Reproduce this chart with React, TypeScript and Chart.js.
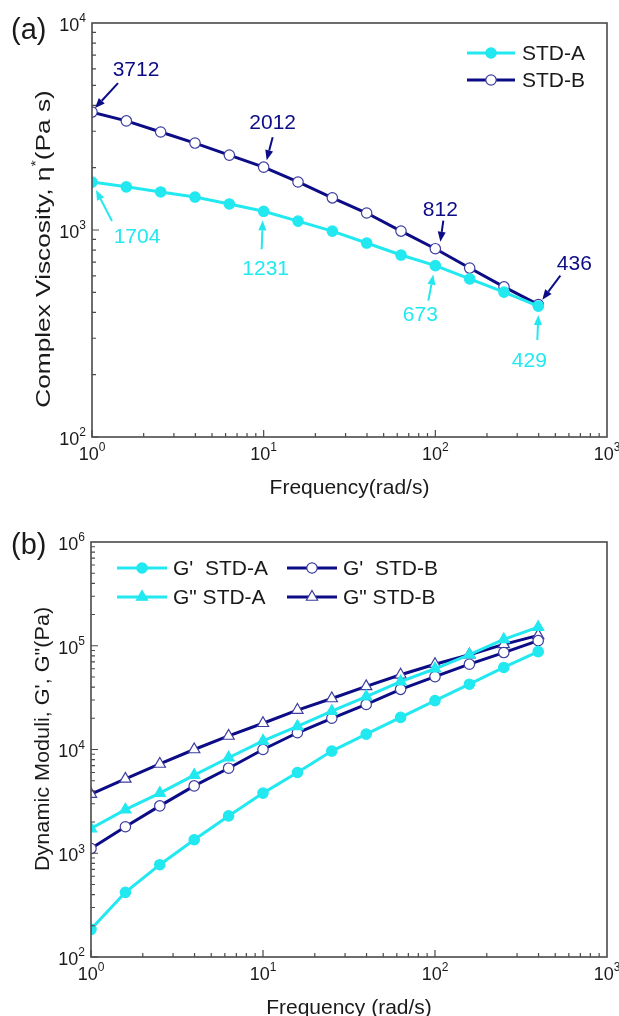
import React, { useEffect, useRef } from 'react';
import { Chart, registerables } from 'chart.js';
Chart.register(...registerables);

// ---------------- data ----------------
const freq = [1, 1.585, 2.512, 3.981, 6.31, 10, 15.85, 25.12, 39.81, 63.1, 100, 158.5, 251.2, 398.1];
const etaA = [1704, 1616, 1527, 1443, 1336, 1231, 1104, 988, 865, 757, 673, 580, 501, 429];
const etaB = [3712, 3365, 2974, 2630, 2300, 2012, 1706, 1430, 1208, 988, 812, 655, 531, 436];
const gPrimeA = [185, 420, 776, 1350, 2290, 3800, 6000, 9660, 14070, 20400, 29600, 42600, 61800, 87700];
const gDoubleA = [1730, 2630, 3800, 5660, 8330, 12100, 16700, 23400, 32400, 45100, 60000, 82000, 115000, 151000];
const gPrimeB = [1110, 1800, 2860, 4460, 6600, 10000, 14500, 20000, 27200, 38000, 50400, 66400, 86000, 112000];
const gDoubleB = [3720, 5200, 7250, 10000, 13500, 17900, 24000, 31000, 40600, 52500, 66400, 82000, 103000, 126000];

const xDecades = [0, 1, 2, 3];
const yDecadesTop = [2, 3, 4];
const yDecadesBottom = [2, 3, 4, 5, 6];

const seriesTop = ['STD-A', 'STD-B'];
const seriesBottom = ["G'  STD-A", 'G" STD-A', "G'  STD-B", 'G" STD-B'];

// ---------------- style ----------------
const FONT = '"Liberation Sans", Arial, Helvetica, sans-serif';
const CYAN = '#22E8F0';
const NAVY = '#0c0c86';
const MARK_EDGE = '#3c3ca0';
const AXIS = '#4a4a4a';
const TEXT = '#1a1a1a';

const pts = (ys: number[]) => freq.map((f, i) => ({ x: f, y: ys[i] }));

function ds(label: string, ys: number[], color: string, filled: boolean, style: string) {
  return {
    label,
    data: pts(ys),
    showLine: true,
    borderColor: color,
    borderWidth: 3,
    backgroundColor: color,
    pointStyle: style,
    pointRadius: style === 'triangle' ? 6.5 : 5.2,
    pointBackgroundColor: filled ? color : '#ffffff',
    pointBorderColor: filled ? color : MARK_EDGE,
    pointBorderWidth: 1.2,
    tension: 0,
  };
}

type Ann = { ds: number; idx: number; color: string; t: [number, number]; a0: [number, number]; a1: [number, number] };

type Spec = {
  height: number;
  padding: { left: number; top: number; right: number; bottom: number };
  yMin: number;
  yMax: number;
  yDecades: number[];
  datasets: any[];
  xTitle: string;
  yTitle: { t: string; sup?: boolean }[];
  yTitlePos: [number, number];
  yTitleStretch: number;
  panel: string;
  panelPos: [number, number];
  legend: { ds: number; x: number; y: number }[];
  legendLine: number;
  legendGap: number;
  anns: Ann[];
};

function drawPow(ctx: CanvasRenderingContext2D, exp: number, x: number, y: number, align: 'center' | 'right') {
  const main = `18px ${FONT}`;
  const sup = `12px ${FONT}`;
  ctx.font = main;
  const w1 = ctx.measureText('10').width;
  ctx.font = sup;
  const w2 = ctx.measureText(String(exp)).width;
  const total = w1 + w2;
  const x0 = align === 'center' ? x - total / 2 : x - total;
  ctx.textAlign = 'left';
  ctx.textBaseline = 'middle';
  ctx.font = main;
  ctx.fillText('10', x0, y);
  ctx.font = sup;
  ctx.fillText(String(exp), x0 + w1, y - 7);
}

function drawPointShape(ctx: CanvasRenderingContext2D, style: string, r: number, x: number, y: number) {
  ctx.beginPath();
  if (style === 'triangle') {
    let rad = 0;
    ctx.moveTo(x + Math.sin(rad) * r, y - Math.cos(rad) * r);
    rad += (2 * Math.PI) / 3;
    ctx.lineTo(x + Math.sin(rad) * r, y - Math.cos(rad) * r);
    rad += (2 * Math.PI) / 3;
    ctx.lineTo(x + Math.sin(rad) * r, y - Math.cos(rad) * r);
    ctx.closePath();
  } else {
    ctx.arc(x, y, r, 0, Math.PI * 2);
  }
  ctx.fill();
  ctx.stroke();
}

function makeDecor(spec: Spec) {
  return {
    id: 'decor',
    afterDatasetsDraw(chart: any) {
      const { ctx, chartArea: a } = chart;
      const xs = chart.scales.x;
      const ys = chart.scales.y;
      ctx.save();
      // frame
      ctx.strokeStyle = AXIS;
      ctx.lineWidth = 1.6;
      ctx.strokeRect(a.left, a.top, a.right - a.left, a.bottom - a.top);
      // ticks
      ctx.lineWidth = 1.2;
      ctx.beginPath();
      for (let d = xDecades[0]; d < xDecades[xDecades.length - 1]; d++) {
        for (let m = 1; m <= 9; m++) {
          const px = xs.getPixelForValue(m * Math.pow(10, d));
          const len = m === 1 ? 7 : 4;
          ctx.moveTo(px, a.bottom);
          ctx.lineTo(px, a.bottom - len);
        }
      }
      const yd = spec.yDecades;
      for (let d = yd[0]; d < yd[yd.length - 1]; d++) {
        for (let m = 1; m <= 9; m++) {
          const py = ys.getPixelForValue(m * Math.pow(10, d));
          const len = m === 1 ? 7 : 4;
          ctx.moveTo(a.left, py);
          ctx.lineTo(a.left + len, py);
        }
      }
      ctx.stroke();
      // tick labels
      ctx.fillStyle = TEXT;
      xDecades.forEach((e) => drawPow(ctx, e, xs.getPixelForValue(Math.pow(10, e)), a.bottom + 18, 'center'));
      yd.forEach((e) => drawPow(ctx, e, a.left - 6, ys.getPixelForValue(Math.pow(10, e)) + 3, 'right'));
      // x title
      ctx.font = `21px ${FONT}`;
      ctx.textAlign = 'center';
      ctx.textBaseline = 'middle';
      ctx.fillText(spec.xTitle, (a.left + a.right) / 2, a.bottom + 51);
      // y title
      ctx.save();
      ctx.translate(spec.yTitlePos[0], spec.yTitlePos[1]);
      ctx.rotate(-Math.PI / 2);
      ctx.scale(spec.yTitleStretch, 1);
      const widths = spec.yTitle.map((p) => {
        ctx.font = p.sup ? `13px ${FONT}` : `21px ${FONT}`;
        return ctx.measureText(p.t).width;
      });
      const tot = widths.reduce((s, w) => s + w, 0);
      let cx = -tot / 2;
      ctx.textAlign = 'left';
      spec.yTitle.forEach((p, i) => {
        ctx.font = p.sup ? `13px ${FONT}` : `21px ${FONT}`;
        ctx.fillText(p.t, cx, p.sup ? -8 : 0);
        cx += widths[i];
      });
      ctx.restore();
      // panel label
      ctx.font = `29px ${FONT}`;
      ctx.textAlign = 'left';
      ctx.textBaseline = 'middle';
      ctx.fillText(spec.panel, spec.panelPos[0], spec.panelPos[1]);
      // legend
      spec.legend.forEach((L) => {
        const d = chart.data.datasets[L.ds];
        ctx.strokeStyle = d.borderColor;
        ctx.lineWidth = 3;
        ctx.beginPath();
        ctx.moveTo(L.x, L.y);
        ctx.lineTo(L.x + spec.legendLine, L.y);
        ctx.stroke();
        ctx.fillStyle = d.pointBackgroundColor;
        ctx.strokeStyle = d.pointBorderColor;
        ctx.lineWidth = d.pointBorderWidth;
        drawPointShape(ctx, d.pointStyle, d.pointRadius, L.x + spec.legendLine / 2, L.y);
        ctx.fillStyle = TEXT;
        ctx.font = `21px ${FONT}`;
        ctx.textAlign = 'left';
        ctx.textBaseline = 'middle';
        ctx.fillText(d.label, L.x + spec.legendLine + spec.legendGap, L.y + 1);
      });
      // annotations
      spec.anns.forEach((an) => {
        const d = chart.data.datasets[an.ds];
        const pt = d.data[an.idx];
        const px = xs.getPixelForValue(pt.x);
        const py = ys.getPixelForValue(pt.y);
        ctx.fillStyle = an.color;
        ctx.strokeStyle = an.color;
        ctx.font = `21px ${FONT}`;
        ctx.textAlign = 'center';
        ctx.textBaseline = 'middle';
        ctx.fillText(String(pt.y), px + an.t[0], py + an.t[1]);
        const x0 = px + an.a0[0], y0 = py + an.a0[1];
        const x1 = px + an.a1[0], y1 = py + an.a1[1];
        const ang = Math.atan2(y1 - y0, x1 - x0);
        const hl = 10, hw = 4;
        const bx = x1 - Math.cos(ang) * hl, by = y1 - Math.sin(ang) * hl;
        ctx.lineWidth = 2;
        ctx.beginPath();
        ctx.moveTo(x0, y0);
        ctx.lineTo(bx, by);
        ctx.stroke();
        ctx.beginPath();
        ctx.moveTo(x1, y1);
        ctx.lineTo(bx + Math.sin(ang) * hw, by - Math.cos(ang) * hw);
        ctx.lineTo(bx - Math.sin(ang) * hw, by + Math.cos(ang) * hw);
        ctx.closePath();
        ctx.fill();
      });
      ctx.restore();
    },
  };
}

const topSpec: Spec = {
  height: 500,
  padding: { left: 92, top: 23, right: 12, bottom: 63 },
  yMin: 100,
  yMax: 10000,
  yDecades: yDecadesTop,
  datasets: [
    ds(seriesTop[0], etaA, CYAN, true, 'circle'),
    ds(seriesTop[1], etaB, NAVY, false, 'circle'),
  ],
  xTitle: 'Frequency(rad/s)',
  yTitle: [{ t: 'Complex Viscosity, η' }, { t: '*', sup: true }, { t: '(Pa s)' }],
  yTitlePos: [44, 249],
  yTitleStretch: 1.25,
  panel: '(a)',
  panelPos: [11, 31],
  legend: [
    { ds: 0, x: 467, y: 53 },
    { ds: 1, x: 467, y: 80 },
  ],
  legendLine: 48,
  legendGap: 7,
  anns: [
    { ds: 1, idx: 0, color: NAVY, t: [44, -42], a0: [26, -29], a1: [3, -4] },
    { ds: 1, idx: 5, color: NAVY, t: [9, -44], a0: [9, -30], a1: [3, -7] },
    { ds: 1, idx: 10, color: NAVY, t: [5, -39], a0: [8, -28], a1: [5, -7] },
    { ds: 1, idx: 13, color: NAVY, t: [36, -40], a0: [22, -29], a1: [4, -5] },
    { ds: 0, idx: 0, color: CYAN, t: [45, 55], a0: [20, 39], a1: [4, 8] },
    { ds: 0, idx: 5, color: CYAN, t: [2, 58], a0: [-2, 38], a1: [-1, 9] },
    { ds: 0, idx: 10, color: CYAN, t: [-15, 50], a0: [-7, 35], a1: [-2, 9] },
    { ds: 0, idx: 13, color: CYAN, t: [-9, 55], a0: [-1, 34], a1: [0, 9] },
  ],
};

const bottomSpec: Spec = {
  height: 516,
  padding: { left: 91, top: 42, right: 12, bottom: 59 },
  yMin: 100,
  yMax: 1000000,
  yDecades: yDecadesBottom,
  datasets: [
    ds(seriesBottom[0], gPrimeA, CYAN, true, 'circle'),
    ds(seriesBottom[1], gDoubleA, CYAN, true, 'triangle'),
    ds(seriesBottom[2], gPrimeB, NAVY, false, 'circle'),
    ds(seriesBottom[3], gDoubleB, NAVY, false, 'triangle'),
  ],
  xTitle: 'Frequency (rad/s)',
  yTitle: [{ t: 'Dynamic Moduli, G\', G"(Pa)' }],
  yTitlePos: [43, 239],
  yTitleStretch: 1.03,
  panel: '(b)',
  panelPos: [11, 46],
  legend: [
    { ds: 0, x: 117, y: 68 },
    { ds: 1, x: 117, y: 97 },
    { ds: 2, x: 287, y: 68 },
    { ds: 3, x: 287, y: 97 },
  ],
  legendLine: 50,
  legendGap: 6,
  anns: [],
};

function Panel({ spec }: { spec: Spec }) {
  const ref = useRef<HTMLCanvasElement>(null);
  useEffect(() => {
    const chart = new Chart(ref.current as HTMLCanvasElement, {
      type: 'scatter',
      data: { datasets: spec.datasets },
      options: {
        animation: false,
        responsive: false,
        devicePixelRatio: 1,
        events: [],
        layout: { padding: spec.padding },
        plugins: { legend: { display: false }, tooltip: { enabled: false } },
        scales: {
          x: { type: 'logarithmic', min: 1, max: 1000, display: false },
          y: { type: 'logarithmic', min: spec.yMin, max: spec.yMax, display: false },
        },
      } as any,
      plugins: [makeDecor(spec)],
    });
    return () => chart.destroy();
  }, []);
  return <canvas ref={ref} width={619} height={spec.height} style={{ display: 'block', width: 619, height: spec.height }} />;
}

export default function App() {
  return (
    <div style={{ position: 'absolute', left: 0, top: 0, width: 619, height: 1016, background: '#fff' }}>
      <Panel spec={topSpec} />
      <Panel spec={bottomSpec} />
    </div>
  );
}
